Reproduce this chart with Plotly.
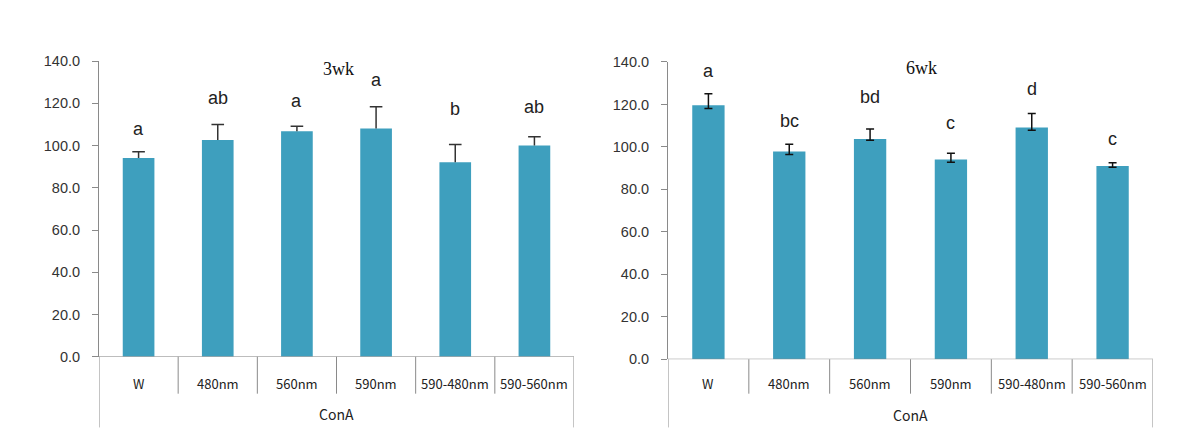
import plotly.graph_objects as go

categories = ["W", "480nm", "560nm", "590nm", "590-480nm", "590-560nm"]
group_label = "ConA"

titles = ["3wk", "6wk"]

# 3wk
vals_3wk = [94.1, 102.6, 106.8, 108.1, 92.1, 100.0]
err_plus_3wk = [2.9, 7.3, 2.3, 10.3, 8.4, 4.1]
letters_3wk = ["a", "ab", "a", "a", "b", "ab"]
letter_y_3wk = [108.0, 122.7, 121.0, 130.9, 117.2, 118.2]

# 6wk
vals_6wk = [119.6, 97.8, 103.7, 94.1, 109.1, 91.0]
err_plus_6wk = [5.4, 3.5, 4.8, 2.9, 6.7, 1.6]
err_minus_6wk = [1.5, 1.4, 0.6, 1.3, 1.2, 0.6]
letters_6wk = ["a", "bc", "bd", "c", "d", "c"]
letter_y_6wk = [135.6, 112.0, 123.3, 111.3, 127.3, 103.7]

y_ticks = [0, 20, 40, 60, 80, 100, 120, 140]

W, H = 1193, 447
BAR = "#3E9FBE"
AX = "#8a8a8a"

def py(p):
    return (H - p) / H

panels = [
    dict(xd=[99 / W, 574 / W], yd=[py(361.7), py(55)], xa="x", ya="y",
         title_x=338 / W, title_y=py(63),
         vals=vals_3wk, ep=err_plus_3wk, em=None, ecol="#333333",
         letters=letters_3wk, ly=letter_y_3wk,
         zero=361.7, lab=389, grp=421, divb=400, bot=435),
    dict(xd=[668 / W, 1153 / W], yd=[py(364.3), py(56)], xa="x2", ya="y2",
         title_x=921 / W, title_y=py(62),
         vals=vals_6wk, ep=err_plus_6wk, em=err_minus_6wk, ecol="#111111",
         letters=letters_6wk, ly=letter_y_6wk,
         zero=364.3, lab=389, grp=422, divb=400, bot=435),
]

fig = go.Figure()
annotations = []
shapes = []
xs = list(range(len(categories)))

for i, p in enumerate(panels):
    if p["em"] is None:
        # upper-only error bars: stem without caps, then a cap marker at the top
        fig.add_trace(go.Bar(
            x=xs, y=p["vals"], xaxis=p["xa"], yaxis=p["ya"],
            marker=dict(color=BAR, line=dict(width=0)), width=0.4,
            error_y=dict(type="data", symmetric=False, array=p["ep"], arrayminus=[0] * 6,
                         color=p["ecol"], thickness=1.5, width=0),
            showlegend=False, hoverinfo="skip"))
        fig.add_trace(go.Scatter(
            x=xs, y=[v + e for v, e in zip(p["vals"], p["ep"])], xaxis=p["xa"], yaxis=p["ya"],
            mode="markers", marker=dict(symbol="line-ew", size=9,
                                        line=dict(color=p["ecol"], width=1.5)),
            showlegend=False, hoverinfo="skip"))
    else:
        fig.add_trace(go.Bar(
            x=xs, y=p["vals"], xaxis=p["xa"], yaxis=p["ya"],
            marker=dict(color=BAR, line=dict(width=0)), width=0.4,
            error_y=dict(type="data", symmetric=False, array=p["ep"], arrayminus=p["em"],
                         color=p["ecol"], thickness=1.5, width=4),
            showlegend=False, hoverinfo="skip"))
    sfx = "" if i == 0 else "2"
    fig.layout["xaxis" + sfx] = dict(domain=p["xd"], range=[-0.5, 5.5], showticklabels=False,
                                    ticks="", showgrid=False, zeroline=False,
                                    showline=False, anchor="y" + sfx, fixedrange=True)
    fig.layout["yaxis" + sfx] = dict(domain=p["yd"], range=[0, 140], tickvals=y_ticks,
                                    ticktext=[f"{v:.1f}" for v in y_ticks],
                                    ticks="outside", ticklen=6, tickcolor=AX, tickwidth=1,
                                    showline=True, linecolor=AX, linewidth=1,
                                    showgrid=False, zeroline=False, anchor="x" + sfx,
                                    tickfont=dict(family="Liberation Sans", size=14.5, color="#333333"),
                                    ticklabelstandoff=9, fixedrange=True)
    # zero baseline
    shapes.append(dict(type="line", xref=p["xa"], yref=p["ya"], x0=-0.5, x1=5.5, y0=0, y1=0,
                       line=dict(color=AX, width=1)))
    # category dividers
    for k in range(1, len(categories)):
        shapes.append(dict(type="line", xref=p["xa"], yref="paper", x0=k - 0.5, x1=k - 0.5,
                           y0=py(p["zero"]), y1=py(p["divb"]), line=dict(color=AX, width=1)))
    # outer lines
    for xv in (-0.5, 5.5):
        shapes.append(dict(type="line", xref=p["xa"], yref="paper", x0=xv, x1=xv,
                           y0=py(p["zero"]), y1=py(p["bot"]), line=dict(color=AX, width=1)))
    # category labels
    for k, c in enumerate(categories):
        annotations.append(dict(x=k, y=py(p["lab"]), xref=p["xa"], yref="paper", text=c,
                                showarrow=False, xanchor="center", yanchor="middle",
                                font=dict(family="Noto Sans CJK KR", size=13, color="#222222")))
    annotations.append(dict(x=2.5, y=py(p["grp"]), xref=p["xa"], yref="paper", text=group_label,
                            showarrow=False, xanchor="center", yanchor="middle",
                            font=dict(family="Noto Sans CJK KR", size=14, color="#222222")))
    # significance letters
    for k, (t, yv) in enumerate(zip(p["letters"], p["ly"])):
        annotations.append(dict(x=k, y=yv, xref=p["xa"], yref=p["ya"], text=t, showarrow=False,
                                xanchor="center", yanchor="middle",
                                font=dict(family="Liberation Sans", size=18, color="#222222")))
    # title
    annotations.append(dict(x=p["title_x"], y=p["title_y"], xref="paper", yref="paper",
                            text=titles[i], showarrow=False, xanchor="center", yanchor="middle",
                            font=dict(family="Liberation Serif", size=18, color="#111111")))

fig.update_layout(width=W, height=H, margin=dict(l=0, r=0, t=0, b=0),
                  paper_bgcolor="white", plot_bgcolor="white",
                  annotations=annotations, shapes=shapes, bargap=0.6)

fig.write_html("out.html")
